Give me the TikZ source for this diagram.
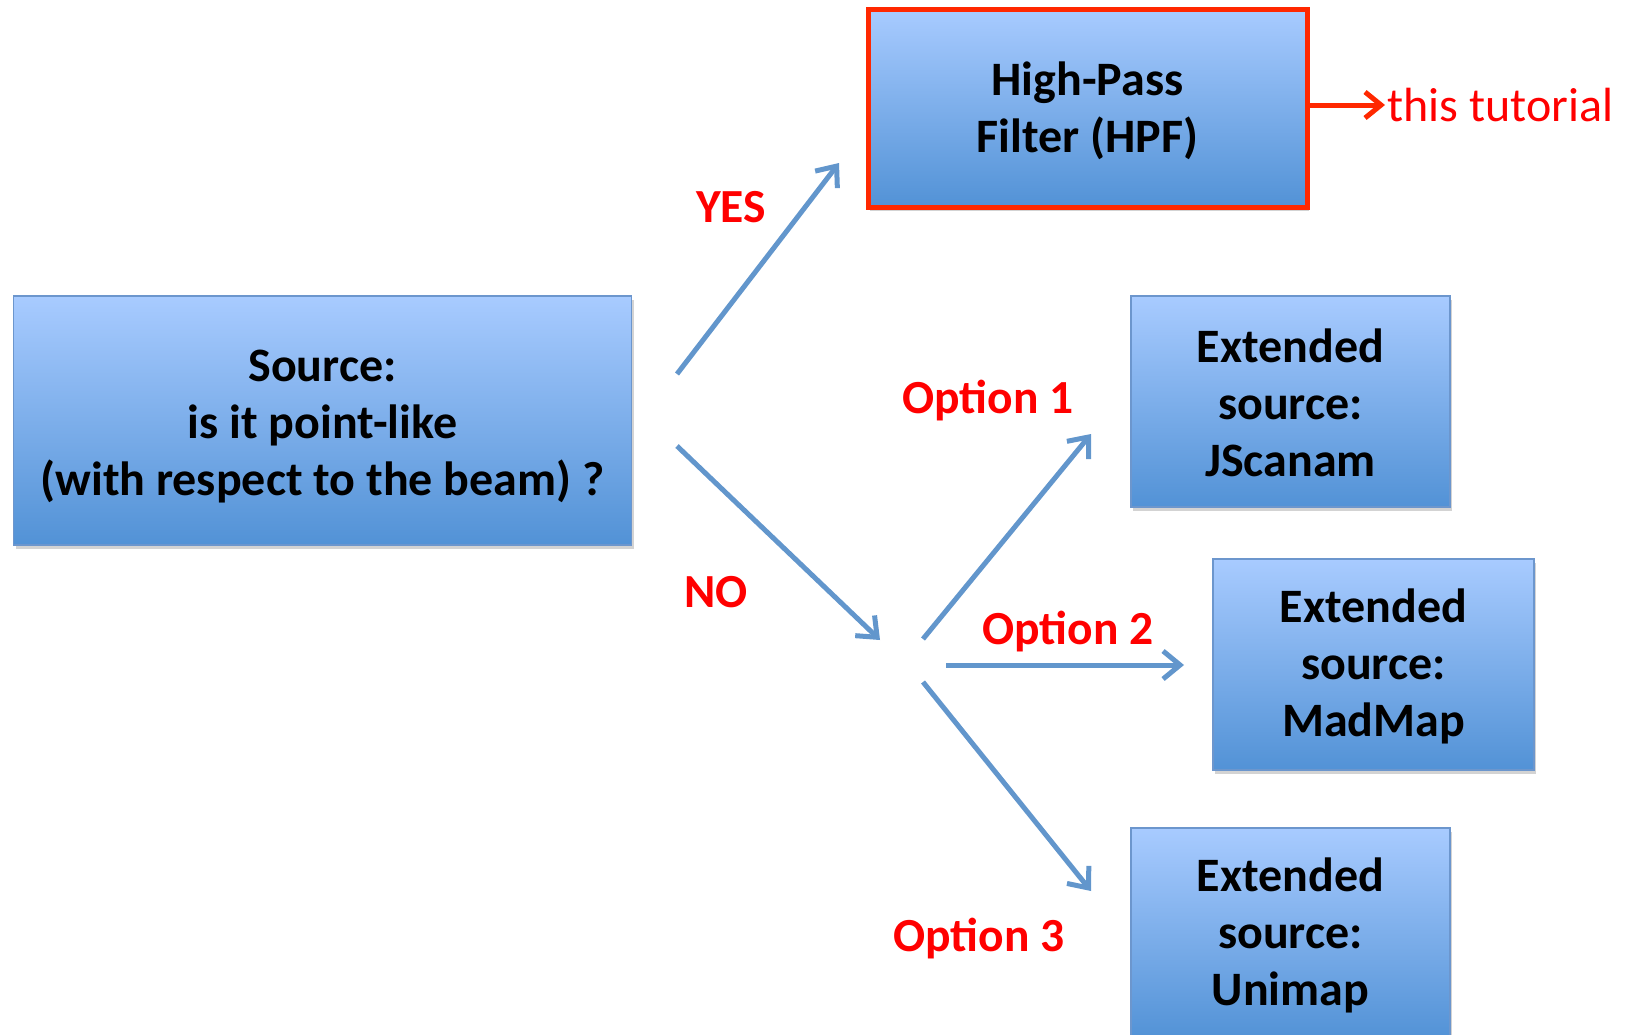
\documentclass[tikz,border=0pt]{standalone}
\usepackage{fontspec}
\setmainfont{Carlito}
\usetikzlibrary{arrows.meta,shadows}
\definecolor{boxtop}{RGB}{168,203,255}
\definecolor{boxbot}{RGB}{82,146,214}
\definecolor{boxborder}{RGB}{108,150,205}
\definecolor{arrowblue}{RGB}{98,150,204}
\definecolor{hpfred}{RGB}{255,40,0}
\definecolor{labred}{RGB}{255,0,0}
\tikzset{
  box/.style={draw=boxborder, line width=1.5pt, top color=boxtop, bottom color=boxbot,
    inner sep=0pt,
    drop shadow={opacity=0.35, shadow xshift=2pt, shadow yshift=-4pt}},
  boxtext/.style={align=center, inner sep=0pt, font=\bfseries\fontsize{48}{57}\selectfont},
  arr/.style={draw=arrowblue, line width=5pt, -{Straight Barb[length=17pt, width=28pt, line width=5pt]}},
  redarr/.style={draw=hpfred, line width=5pt, -{Straight Barb[length=16pt, width=26pt, line width=5pt]}},
  lab/.style={text=labred, font=\bfseries\fontsize{47.5}{50}\selectfont, inner sep=0pt},
}
\begin{document}
\begin{tikzpicture}[x=1pt,y=-1pt]
\useasboundingbox (0,0) rectangle (1628,1034);
\clip (0,0) rectangle (1628,1034);
% boxes
\node[box, minimum width=618pt, minimum height=249pt] (src) at (322.5,420.5) {};
\node[boxtext] (srct) at ([yshift=-6pt]src.center)
  {Source:\\is it point-like\\(with respect to the beam) ?};
\node[box, draw=hpfred, line width=5pt, minimum width=439pt, minimum height=198pt] (hpf) at (1087.5,108) {};
\node[boxtext] (hpft) at ([yshift=-3pt]hpf.center) {High-Pass\\Filter (HPF)};
\node[box, minimum width=319pt, minimum height=211pt] (js) at (1290.5,401.5) {};
\node[boxtext] (jst) at ([yshift=-1.5pt]js.center) {Extended\\source:\\JScanam};
\node[box, minimum width=321pt, minimum height=211pt] (mm) at (1373.5,664.5) {};
\node[boxtext] (mmt) at ([yshift=-1.5pt]mm.center) {Extended\\source:\\MadMap};
\node[box, minimum width=319pt, minimum height=211pt] (um) at (1290.5,933.5) {};
\node[boxtext] (umt) at ([yshift=-1.5pt]um.center) {Extended\\source:\\Unimap};
% this tutorial
\node[anchor=west, text=labred, font=\fontsize{48}{50}\selectfont, inner sep=0pt] (tut) at (1387,105) {this tutorial};
\draw[redarr] (hpf.east |- tut.west) -- ([xshift=-2pt]tut.west);
% arrow end points
\coordinate (yesS) at (677,374);
\coordinate (yesE) at (839,163);
\coordinate (noS) at (677,446);
\coordinate (noE) at (880,640);
\coordinate (o1S) at (923,639);
\coordinate (o1E) at (1091,434);
\coordinate (o2S) at (946,665);
\coordinate (o2E) at (1184,665);
\coordinate (o3S) at (923,682);
\coordinate (o3E) at (1091,891);
\draw[arr] (yesS) -- (yesE);
\draw[arr] (noS) -- (noE);
\draw[arr] (o1S) -- (o1E);
\draw[arr] (o2S) -- (o2E);
\draw[arr] (o3S) -- (o3E);
% labels
\node[lab] (yes) at (731,207) {YES};
\node[lab] (no) at (716,592) {NO};
\node[lab] (op1) at (988,400.5) {Option 1};
\node[lab] (op2) at (1068,631.5) {Option 2};
\node[lab] (op3) at (979,938.5) {Option 3};
\end{tikzpicture}
\end{document}
